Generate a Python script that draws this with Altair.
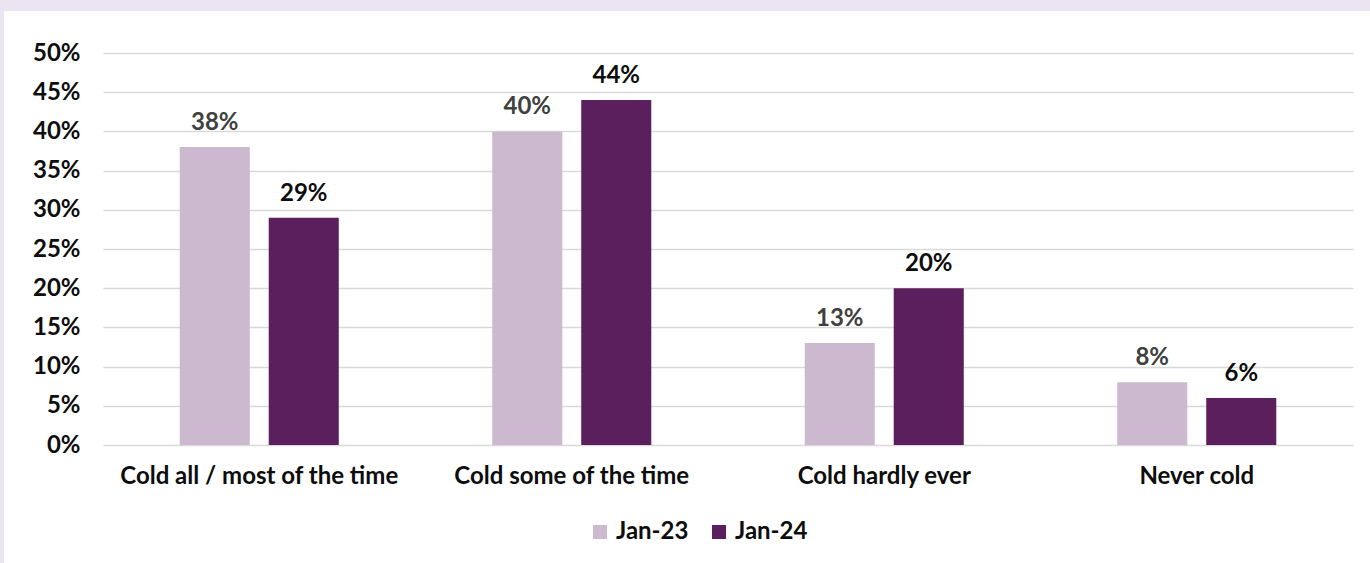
import altair as alt
import pandas as pd

# Survey responses: how often people felt cold at home
categories = ["Cold all / most of the time", "Cold some of the time", "Cold hardly ever", "Never cold"]
jan23 = [38, 40, 13, 8]
jan24 = [29, 44, 20, 6]
periods = ["Jan-23", "Jan-24"]
y_ticks = [0, 5, 10, 15, 20, 25, 30, 35, 40, 45, 50]

rows = []
for cat, a, b in zip(categories, jan23, jan24):
    rows.append({"category": cat, "period": periods[0], "value": a, "label": f"{a}%"})
    rows.append({"category": cat, "period": periods[1], "value": b, "label": f"{b}%"})
df = pd.DataFrame(rows)
frame_df = pd.DataFrame({"part": ["frame"]})

FONT = "Lato"
FS = 24
W, H = 1250, 392
PAD = {"left": 103, "top": 53, "right": 17, "bottom": 118}
FRAME = "#ebe5f1"

bar_colors = ["#cdb9cf", "#5c1f5e"]
label_colors = ["#404040", "#0d0d0d"]

x_axis = alt.Axis(labelAngle=0, labelFont=FONT, labelFontWeight="bold",
                  labelFontSize=FS, labelColor="#0d0d0d", labelPadding=19,
                  labelLimit=0, domain=False, ticks=False, grid=False)
y_scale = alt.Scale(domain=[0, 50], nice=False)
y_axis = alt.Axis(values=y_ticks, tickCount=11, labelExpr="datum.value + '%'",
                  labelFont=FONT, labelFontWeight="bold", labelFontSize=FS,
                  labelColor="#0d0d0d", labelPadding=23, labelOverlap=False,
                  domain=False, ticks=False,
                  grid=True, gridColor="#d9d9d9", gridWidth=1.6)
x_enc = alt.X("category:N", sort=categories, title=None,
              scale=alt.Scale(paddingInner=0.0, paddingOuter=0.0), axis=x_axis)
y_enc = alt.Y("value:Q", scale=y_scale, title=None, axis=y_axis)
offset_enc = alt.XOffset("period:N", sort=periods,
                         scale=alt.Scale(paddingInner=0.213, paddingOuter=0.862))

# lavender frame strips along the top and left edges of the page
top_strip = alt.Chart(frame_df).mark_rect(color=FRAME).encode(
    x=alt.value(-PAD["left"]), x2=alt.value(W + PAD["right"]),
    y=alt.value(-PAD["top"]), y2=alt.value(-42),
)
left_strip = alt.Chart(frame_df).mark_rect(color=FRAME).encode(
    x=alt.value(-PAD["left"]), x2=alt.value(-99),
    y=alt.value(-PAD["top"]), y2=alt.value(H + PAD["bottom"]),
)

bars = alt.Chart(df).mark_bar().encode(
    x=x_enc,
    xOffset=offset_enc,
    y=y_enc,
    color=alt.Color("period:N", sort=periods,
                    scale=alt.Scale(domain=periods, range=bar_colors),
                    legend=alt.Legend(title=None, orient="none", direction="horizontal",
                                      legendX=485, legendY=467,
                                      symbolType="square", symbolSize=196,
                                      symbolStrokeWidth=0, symbolOpacity=1,
                                      labelFont=FONT, labelFontWeight="bold",
                                      labelFontSize=FS, labelColor="#0d0d0d",
                                      labelOffset=4, columnPadding=18)),
)

labels = alt.Chart(df).mark_text(font=FONT, fontWeight="bold", fontSize=FS,
                                 baseline="alphabetic", dy=-17).encode(
    x=x_enc,
    xOffset=offset_enc,
    y=y_enc,
    text="label:N",
    color=alt.Color("period:N", scale=alt.Scale(domain=periods, range=label_colors),
                    legend=None),
)

chart = alt.layer(top_strip, left_strip, bars, labels).resolve_scale(
    color="independent"
).properties(
    width=W, height=H,
    autosize=alt.AutoSizeParams(type="none"),
    padding=PAD,
    background="white",
).configure_view(stroke=None)

chart.save("out.html", embed_options={"renderer": "svg", "actions": False})
